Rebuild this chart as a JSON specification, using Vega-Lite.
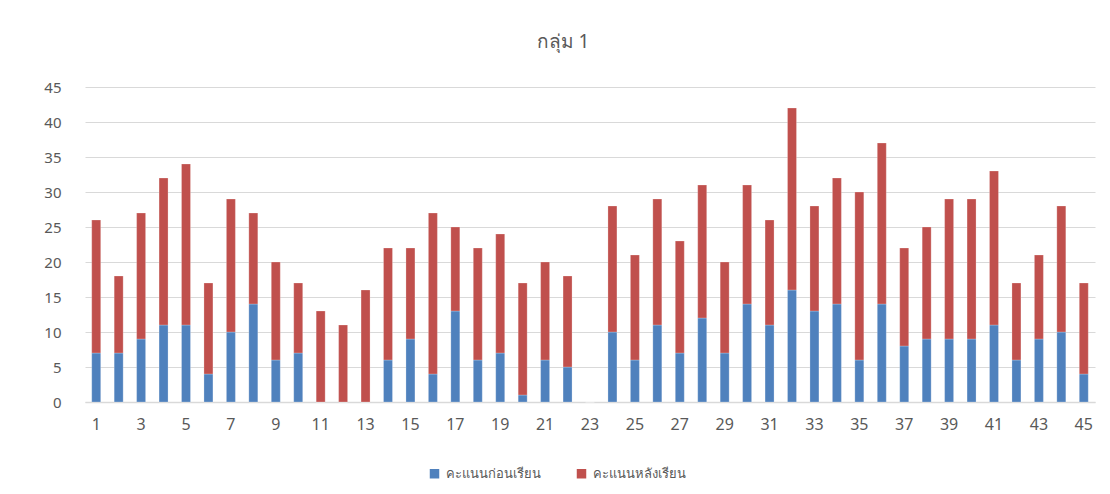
{
  "$schema": "https://vega.github.io/schema/vega-lite/v6.json",
  "width": 1010,
  "height": 315,
  "autosize": {"type": "none"},
  "padding": {"left": 85, "top": 87, "right": 15, "bottom": 92},
  "background": "white",
  "title": {
    "text": "กลุ่ม 1",
    "fontSize": 19,
    "fontWeight": "normal",
    "color": "#595959",
    "font": "Noto Sans",
    "offset": 28,
    "dx": -27
  },
  "data": {
    "values": [
      {"n": 1, "pre": 7, "post": 19},
      {"n": 2, "pre": 7, "post": 11},
      {"n": 3, "pre": 9, "post": 18},
      {"n": 4, "pre": 11, "post": 21},
      {"n": 5, "pre": 11, "post": 23},
      {"n": 6, "pre": 4, "post": 13},
      {"n": 7, "pre": 10, "post": 19},
      {"n": 8, "pre": 14, "post": 13},
      {"n": 9, "pre": 6, "post": 14},
      {"n": 10, "pre": 7, "post": 10},
      {"n": 11, "pre": 0, "post": 13},
      {"n": 12, "pre": 0, "post": 11},
      {"n": 13, "pre": 0, "post": 16},
      {"n": 14, "pre": 6, "post": 16},
      {"n": 15, "pre": 9, "post": 13},
      {"n": 16, "pre": 4, "post": 23},
      {"n": 17, "pre": 13, "post": 12},
      {"n": 18, "pre": 6, "post": 16},
      {"n": 19, "pre": 7, "post": 17},
      {"n": 20, "pre": 1, "post": 16},
      {"n": 21, "pre": 6, "post": 14},
      {"n": 22, "pre": 5, "post": 13},
      {"n": 23, "pre": 0, "post": 0},
      {"n": 24, "pre": 10, "post": 18},
      {"n": 25, "pre": 6, "post": 15},
      {"n": 26, "pre": 11, "post": 18},
      {"n": 27, "pre": 7, "post": 16},
      {"n": 28, "pre": 12, "post": 19},
      {"n": 29, "pre": 7, "post": 13},
      {"n": 30, "pre": 14, "post": 17},
      {"n": 31, "pre": 11, "post": 15},
      {"n": 32, "pre": 16, "post": 26},
      {"n": 33, "pre": 13, "post": 15},
      {"n": 34, "pre": 14, "post": 18},
      {"n": 35, "pre": 6, "post": 24},
      {"n": 36, "pre": 14, "post": 23},
      {"n": 37, "pre": 8, "post": 14},
      {"n": 38, "pre": 9, "post": 16},
      {"n": 39, "pre": 9, "post": 20},
      {"n": 40, "pre": 9, "post": 20},
      {"n": 41, "pre": 11, "post": 22},
      {"n": 42, "pre": 6, "post": 11},
      {"n": 43, "pre": 9, "post": 12},
      {"n": 44, "pre": 10, "post": 18},
      {"n": 45, "pre": 4, "post": 13}
    ]
  },
  "transform": [
    {"fold": ["pre", "post"], "as": ["key", "score"]},
    {"lookup": "key", "from": {"data": {"values": [
      {"key": "pre", "series": "คะแนนก่อนเรียน", "ord": 0},
      {"key": "post", "series": "คะแนนหลังเรียน", "ord": 1}
    ]}, "key": "key", "fields": ["series", "ord"]}}
  ],
  "mark": {"type": "bar", "stroke": "white", "strokeOpacity": 0.4, "strokeWidth": 0.6},
  "encoding": {
    "x": {
      "field": "n",
      "type": "ordinal",
      "sort": "ascending",
      "scale": {"paddingInner": 0.6, "paddingOuter": 0.3},
      "axis": {
        "title": null,
        "values": [1,3,5,7,9,11,13,15,17,19,21,23,25,27,29,31,33,35,37,39,41,43,45],
        "labelAngle": 0,
        "labelFontSize": 16,
        "labelColor": "#595959",
        "labelFont": "Noto Sans",
        "labelPadding": 14,
        "ticks": false,
        "domainColor": "#d9d9d9",
        "domainWidth": 1.5
      }
    },
    "y": {
      "field": "score",
      "type": "quantitative",
      "stack": "zero",
      "scale": {"domain": [0, 45], "nice": false},
      "axis": {
        "title": null,
        "values": [0,5,10,15,20,25,30,35,40,45],
        "labelFontSize": 15,
        "labelColor": "#595959",
        "labelFont": "Noto Sans",
        "labelPadding": 24,
        "ticks": false,
        "domain": false,
        "gridColor": "#d9d9d9",
        "gridWidth": 1
      }
    },
    "color": {
      "field": "series",
      "type": "nominal",
      "sort": ["คะแนนก่อนเรียน", "คะแนนหลังเรียน"],
      "scale": {"domain": ["คะแนนก่อนเรียน", "คะแนนหลังเรียน"], "range": ["#4f81bd", "#c0504d"]},
      "legend": {
        "title": null,
        "orient": "none",
        "legendX": 343,
        "legendY": 380,
        "direction": "horizontal",
        "symbolType": "square",
        "symbolSize": 90,
        "symbolStrokeWidth": 0,
        "labelFontSize": 13,
        "labelColor": "#595959",
        "labelFont": "Noto Sans",
        "columnPadding": 34,
        "labelOffset": 5
      }
    },
    "order": {"field": "ord", "type": "quantitative"}
  },
  "config": {
    "view": {"stroke": null}
  }
}
